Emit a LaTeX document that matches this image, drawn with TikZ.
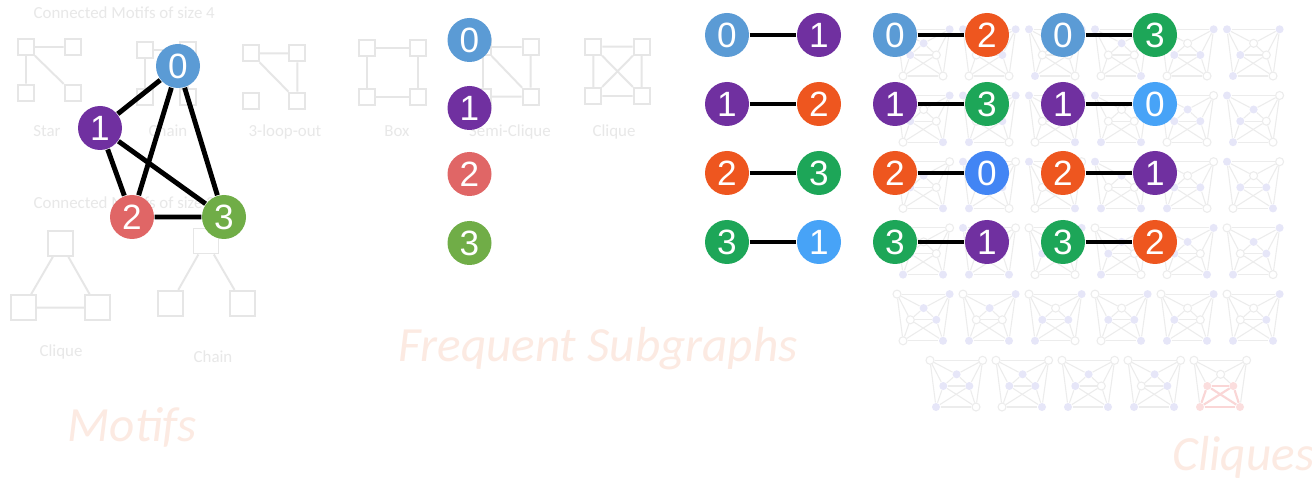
\documentclass[tikz,border=0pt]{standalone}
\usepackage{fontspec}
\setmainfont{Carlito}
\newfontfamily\arialfont{Liberation Sans}

\definecolor{nodeblue}{HTML}{5B9BD5}
\definecolor{nodepurple}{HTML}{7030A0}
\definecolor{nodered}{HTML}{E06666}
\definecolor{nodegreen}{HTML}{70AD47}
\definecolor{pairorange}{HTML}{EE561F}
\definecolor{pairgreen}{HTML}{1DA658}
\definecolor{pairsky}{HTML}{47A3F7}
\definecolor{pairblue}{HTML}{4285F4}
\definecolor{motifgray}{HTML}{E6E6E6}
\definecolor{labelgray}{HTML}{E8E8E8}
\definecolor{titlepink}{HTML}{FCEAE2}
\definecolor{cliqueedge}{HTML}{ECECEC}
\definecolor{cliquefill}{HTML}{E6E6F8}
\definecolor{cliquered}{HTML}{FBDEDE}
\definecolor{cliqueredge}{HTML}{FAD6D6}

\newcount\cliquecount

\begin{document}
\begin{tikzpicture}[
  x=0.1mm, y=-0.1mm,
  vertex/.style={
    circle, minimum size=4.4mm, inner sep=0pt, text=white,
    font=\arialfont\fontsize{10}{11}\selectfont
  },
  link/.style={line width=1.4pt},
  pairlink/.style={line width=1.15pt},
  motifbox/.style={draw=motifgray, line width=0.55pt, minimum size=1.6mm, inner sep=0pt},
  bigbox/.style={motifbox, minimum size=2.5mm},
  motifedge/.style={draw=motifgray, line width=0.55pt},
  motiflabel/.style={text=labelgray, font=\fontsize{4.8}{5}\selectfont, inner sep=0pt},
  heading/.style={text=titlepink, font=\itshape\fontsize{14}{16}\selectfont, inner sep=0pt},
  cnode/.style={circle, line width=0.3pt, minimum size=0.8mm, inner sep=0pt},
  free/.style={cnode, draw=cliqueedge, fill=white},
  chosen/.style={cnode, fill=pick},
  cedge/.style={draw=cliqueedge, line width=0.3pt}
  ]
  \fill[white] (0,0) rectangle (1312,482);
  \useasboundingbox (0,0) rectangle (1312,482);

  % motifs of size 4
  \node[motiflabel, anchor=base west] (title4) at (33,18.3) {Connected Motifs of size 4};
  \node[motifbox] (st1) at (26,47) {};
  \node[motifbox] (st2) at (72.7,47) {};
  \node[motifbox] (st3) at (26,92.7) {};
  \node[motifbox] (st4) at (72.7,92.7) {};
  \draw[motifedge] (st1) -- (st2) (st1) -- (st3) (st1) -- (st4);
  \node[motiflabel, anchor=base] (lstar) at (47,137) {Star};

  \node[motifbox] (ch1) at (145,50) {};
  \node[motifbox] (ch2) at (188,50) {};
  \node[motifbox] (ch3) at (145,97) {};
  \node[motifbox] (ch4) at (188,97) {};
  \draw[motifedge] (ch3) -- (ch1) -- (ch2) -- (ch4);
  \node[motiflabel, anchor=base] (lchain) at (168,137) {Chain};

  \node[motifbox] (lo1) at (250.7,53.3) {};
  \node[motifbox] (lo2) at (297.3,53.3) {};
  \node[motifbox] (lo3) at (250.7,100.7) {};
  \node[motifbox] (lo4) at (297.3,100.7) {};
  \draw[motifedge] (lo1) -- (lo2) (lo1) -- (lo4) (lo2) -- (lo4);
  \node[motiflabel, anchor=base] (lloop) at (285,137) {3-loop-out};

  \node[motifbox] (bx1) at (367.3,47.7) {};
  \node[motifbox] (bx2) at (417.7,47.7) {};
  \node[motifbox] (bx3) at (367.3,97.3) {};
  \node[motifbox] (bx4) at (417.7,97.3) {};
  \draw[motifedge] (bx1) -- (bx2) -- (bx4) -- (bx3) -- (bx1);
  \node[motiflabel, anchor=base] (lbox) at (397,137) {Box};

  \node[motifbox] (sc1) at (483,47) {};
  \node[motifbox] (sc2) at (530.7,47) {};
  \node[motifbox] (sc3) at (483,96.7) {};
  \node[motifbox] (sc4) at (530.7,96.7) {};
  \draw[motifedge] (sc1) -- (sc2) -- (sc4) -- (sc3) -- (sc1) (sc1) -- (sc4);
  \node[motiflabel, anchor=base] (lsemi) at (510,137) {Semi-Clique};

  \node[motifbox] (cq1) at (593.3,46.7) {};
  \node[motifbox] (cq2) at (641.7,46.7) {};
  \node[motifbox] (cq3) at (593.3,96) {};
  \node[motifbox] (cq4) at (641.7,96) {};
  \draw[motifedge] (cq1) -- (cq2) -- (cq4) -- (cq3) -- (cq1) (cq1) -- (cq4) (cq2) -- (cq3);
  \node[motiflabel, anchor=base] (lclique) at (614,137) {Clique};

  % motifs of size 3
  \node[motiflabel, anchor=base west] (title3) at (33,208.3) {Connected Motifs of size 3};
  \node[bigbox] (tr1) at (60.7,243.3) {};
  \node[bigbox] (tr2) at (23.3,307.7) {};
  \node[bigbox] (tr3) at (97.3,307.7) {};
  \draw[motifedge] (tr1) -- (tr2) -- (tr3) -- (tr1);
  \node[motiflabel, anchor=base] (ltri) at (61,356.7) {Clique};

  \node[bigbox] (pa1) at (206,241) {};
  \node[bigbox] (pa2) at (170.7,303.3) {};
  \node[bigbox] (pa3) at (242.3,303.3) {};
  \draw[motifedge] (pa2) -- (pa1) -- (pa3);
  \node[motiflabel, anchor=base] (lpath) at (213,362.7) {Chain};

  % section headings
  \node[heading, anchor=base west] (hmotif) at (67,441.7) {Motifs};
  \node[heading, anchor=base west] (hfreq) at (398,361.7) {Frequent Subgraphs};
  \node[heading, anchor=base west] (hclique) at (1172,470) {Cliques};

  % all 4-subsets of the 7-node graph
  \global\cliquecount=0
  \foreach \va in {0,...,3}{
    \pgfmathtruncatemacro\bmin{\va+1}
    \foreach \vb in {\bmin,...,4}{
      \pgfmathtruncatemacro\cmin{\vb+1}
      \foreach \vc in {\cmin,...,5}{
        \pgfmathtruncatemacro\dmin{\vc+1}
        \foreach \vd in {\dmin,...,6}{
          \edef\n{\the\cliquecount}
          \pgfmathsetmacro\cx{\n<30 ? 897+66*mod(\n,6) : 930+66*(\n-30)}
          \pgfmathsetmacro\cy{\n<30 ? 29.3+66.2*floor(\n/6) : 360.3}
          \ifnum\n=34 \colorlet{pick}{cliquered}\else\colorlet{pick}{cliquefill}\fi
          \foreach \vid/\dx/\dy in {0/0/0, 1/52.6/0, 2/26.6/14, 3/13.3/25.7,
                                   4/39.3/25.7, 5/6/46.7, 6/46/46.7}{
            \pgfmathtruncatemacro\hit{(\vid==\va)||(\vid==\vb)||(\vid==\vc)||(\vid==\vd)}
            \ifnum\hit=1
              \node[chosen] (c\n-\vid) at (\cx+\dx,\cy+\dy) {};
            \else
              \node[free] (c\n-\vid) at (\cx+\dx,\cy+\dy) {};
            \fi
          }
          \foreach \ea/\eb in {0/1,0/2,1/2,2/3,2/4,3/4,0/5,1/6,5/6,3/6,4/5,0/3,1/4,3/5,4/6}
            \draw[cedge] (c\n-\ea) -- (c\n-\eb);
          \global\advance\cliquecount by 1
        }
      }
    }
  }
  \foreach \ea/\eb in {3/4,5/6,3/5,4/6,3/6,4/5}
    \draw[cedge, draw=cliqueredge, line width=0.6pt] (c34-\ea) -- (c34-\eb);

  % the graph
  \node[vertex, fill=nodeblue] (g0) at (178,66) {0};
  \node[vertex, fill=nodepurple] (g1) at (100,128) {1};
  \node[vertex, fill=nodered] (g2) at (132,217) {2};
  \node[vertex, fill=nodegreen] (g3) at (224,217) {3};
  \draw[link] (g0) -- (g1) (g0) -- (g2) (g0) -- (g3)
              (g1) -- (g2) (g1) -- (g3) (g2) -- (g3);

  % single vertices
  \foreach \vid/\fillc/\yy in {0/nodeblue/40, 1/nodepurple/108, 2/nodered/174, 3/nodegreen/243}
    \node[vertex, fill=\fillc] (m\vid) at (469.5,\yy) {\vid};

  % edges
  \foreach \la/\lc/\ra/\rc [count=\i from 0] in {
      0/nodeblue/1/nodepurple, 0/nodeblue/2/pairorange, 0/nodeblue/3/pairgreen,
      1/nodepurple/2/pairorange, 1/nodepurple/3/pairgreen, 1/nodepurple/0/pairsky,
      2/pairorange/3/pairgreen, 2/pairorange/0/pairblue, 2/pairorange/1/nodepurple,
      3/pairgreen/1/pairsky, 3/pairgreen/1/nodepurple, 3/pairgreen/2/pairorange}{
    \pgfmathsetmacro\px{727+168*mod(\i,3)}
    \pgfmathsetmacro\py{35+69*floor(\i/3)}
    \node[vertex, fill=\lc] (p\i-l) at (\px,\py) {\la};
    \node[vertex, fill=\rc] (p\i-r) at (\px+92,\py) {\ra};
    \draw[pairlink] (p\i-l) -- (p\i-r);
  }
\end{tikzpicture}
\end{document}
